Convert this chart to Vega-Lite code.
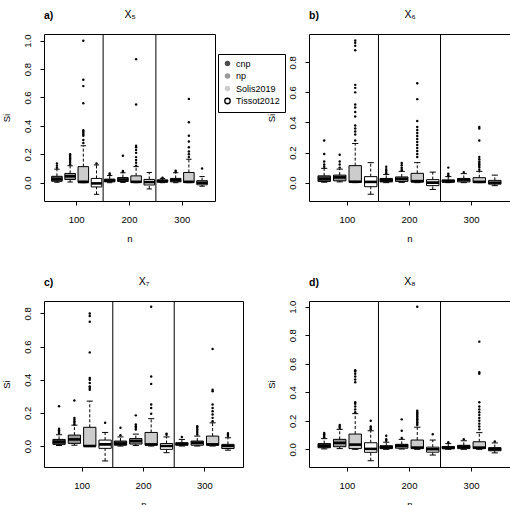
{
"$schema": "https://vega.github.io/schema/vega-lite/v6.json",
"padding": {"left": 0, "top": 8, "right": 0, "bottom": 0},
"datasets": {
"boxes": [
{"p":"a","n":100,"m":"cnp","lo":0.003,"q1":0.01,"md":0.025,"q3":0.045,"hi":0.095},
{"p":"a","n":100,"m":"np","lo":0.005,"q1":0.022,"md":0.045,"q3":0.065,"hi":0.12},
{"p":"a","n":100,"m":"Solis2019","lo":0.0,"q1":0.002,"md":0.006,"q3":0.113,"hi":0.26},
{"p":"a","n":100,"m":"Tissot2012","lo":-0.082,"q1":-0.03,"md":-0.005,"q3":0.03,"hi":0.125},
{"p":"a","n":200,"m":"cnp","lo":0.0,"q1":0.006,"md":0.015,"q3":0.025,"hi":0.05},
{"p":"a","n":200,"m":"np","lo":0.002,"q1":0.008,"md":0.022,"q3":0.036,"hi":0.07},
{"p":"a","n":200,"m":"Solis2019","lo":0.0,"q1":0.001,"md":0.006,"q3":0.048,"hi":0.113},
{"p":"a","n":200,"m":"Tissot2012","lo":-0.044,"q1":-0.016,"md":0.004,"q3":0.023,"hi":0.072},
{"p":"a","n":300,"m":"cnp","lo":0.0,"q1":0.004,"md":0.01,"q3":0.02,"hi":0.03},
{"p":"a","n":300,"m":"np","lo":0.0,"q1":0.006,"md":0.018,"q3":0.03,"hi":0.07},
{"p":"a","n":300,"m":"Solis2019","lo":0.0,"q1":0.001,"md":0.006,"q3":0.072,"hi":0.165},
{"p":"a","n":300,"m":"Tissot2012","lo":-0.025,"q1":-0.015,"md":0.0,"q3":0.014,"hi":0.043},
{"p":"b","n":100,"m":"cnp","lo":0.003,"q1":0.008,"md":0.025,"q3":0.045,"hi":0.095},
{"p":"b","n":100,"m":"np","lo":0.005,"q1":0.012,"md":0.035,"q3":0.05,"hi":0.09},
{"p":"b","n":100,"m":"Solis2019","lo":0.0,"q1":0.002,"md":0.006,"q3":0.113,"hi":0.26},
{"p":"b","n":100,"m":"Tissot2012","lo":-0.077,"q1":-0.027,"md":0.005,"q3":0.04,"hi":0.133},
{"p":"b","n":200,"m":"cnp","lo":0.0,"q1":0.005,"md":0.015,"q3":0.028,"hi":0.055},
{"p":"b","n":200,"m":"np","lo":0.002,"q1":0.008,"md":0.025,"q3":0.038,"hi":0.075},
{"p":"b","n":200,"m":"Solis2019","lo":0.0,"q1":0.004,"md":0.01,"q3":0.062,"hi":0.133},
{"p":"b","n":200,"m":"Tissot2012","lo":-0.045,"q1":-0.02,"md":0.0,"q3":0.02,"hi":0.07},
{"p":"b","n":300,"m":"cnp","lo":0.0,"q1":0.003,"md":0.01,"q3":0.018,"hi":0.04},
{"p":"b","n":300,"m":"np","lo":0.0,"q1":0.005,"md":0.02,"q3":0.028,"hi":0.06},
{"p":"b","n":300,"m":"Solis2019","lo":0.0,"q1":0.001,"md":0.005,"q3":0.033,"hi":0.075},
{"p":"b","n":300,"m":"Tissot2012","lo":-0.02,"q1":-0.01,"md":0.0,"q3":0.015,"hi":0.05},
{"p":"c","n":100,"m":"cnp","lo":0.003,"q1":0.01,"md":0.025,"q3":0.04,"hi":0.068},
{"p":"c","n":100,"m":"np","lo":0.005,"q1":0.016,"md":0.04,"q3":0.066,"hi":0.126},
{"p":"c","n":100,"m":"Solis2019","lo":-0.003,"q1":-0.002,"md":0.0,"q3":0.113,"hi":0.271},
{"p":"c","n":100,"m":"Tissot2012","lo":-0.09,"q1":-0.014,"md":0.01,"q3":0.036,"hi":0.082},
{"p":"c","n":200,"m":"cnp","lo":0.0,"q1":0.005,"md":0.015,"q3":0.03,"hi":0.055},
{"p":"c","n":200,"m":"np","lo":0.003,"q1":0.012,"md":0.03,"q3":0.045,"hi":0.072},
{"p":"c","n":200,"m":"Solis2019","lo":0.0,"q1":0.005,"md":0.01,"q3":0.082,"hi":0.165},
{"p":"c","n":200,"m":"Tissot2012","lo":-0.04,"q1":-0.02,"md":0.0,"q3":0.015,"hi":0.055},
{"p":"c","n":300,"m":"cnp","lo":0.0,"q1":0.005,"md":0.012,"q3":0.02,"hi":0.04},
{"p":"c","n":300,"m":"np","lo":0.0,"q1":0.005,"md":0.02,"q3":0.03,"hi":0.06},
{"p":"c","n":300,"m":"Solis2019","lo":0.0,"q1":0.005,"md":0.01,"q3":0.06,"hi":0.14},
{"p":"c","n":300,"m":"Tissot2012","lo":-0.025,"q1":-0.015,"md":0.0,"q3":0.01,"hi":0.05},
{"p":"d","n":100,"m":"cnp","lo":0.003,"q1":0.011,"md":0.025,"q3":0.04,"hi":0.075},
{"p":"d","n":100,"m":"np","lo":0.005,"q1":0.018,"md":0.045,"q3":0.07,"hi":0.14},
{"p":"d","n":100,"m":"Solis2019","lo":0.0,"q1":0.005,"md":0.033,"q3":0.107,"hi":0.25},
{"p":"d","n":100,"m":"Tissot2012","lo":-0.08,"q1":-0.021,"md":0.003,"q3":0.046,"hi":0.13},
{"p":"d","n":200,"m":"cnp","lo":0.0,"q1":0.005,"md":0.015,"q3":0.025,"hi":0.05},
{"p":"d","n":200,"m":"np","lo":0.002,"q1":0.008,"md":0.025,"q3":0.035,"hi":0.07},
{"p":"d","n":200,"m":"Solis2019","lo":0.0,"q1":0.005,"md":0.012,"q3":0.065,"hi":0.155},
{"p":"d","n":200,"m":"Tissot2012","lo":-0.04,"q1":-0.02,"md":0.0,"q3":0.015,"hi":0.065},
{"p":"d","n":300,"m":"cnp","lo":0.0,"q1":0.005,"md":0.01,"q3":0.02,"hi":0.04},
{"p":"d","n":300,"m":"np","lo":0.0,"q1":0.005,"md":0.018,"q3":0.028,"hi":0.06},
{"p":"d","n":300,"m":"Solis2019","lo":0.0,"q1":0.005,"md":0.012,"q3":0.053,"hi":0.117},
{"p":"d","n":300,"m":"Tissot2012","lo":-0.025,"q1":-0.01,"md":0.0,"q3":0.012,"hi":0.045}
],
"outl": [
{"p":"a","n":100,"m":"cnp","v":0.105},{"p":"a","n":100,"m":"cnp","v":0.12},{"p":"a","n":100,"m":"cnp","v":0.135},
{"p":"a","n":100,"m":"np","v":0.13},{"p":"a","n":100,"m":"np","v":0.145},{"p":"a","n":100,"m":"np","v":0.16},{"p":"a","n":100,"m":"np","v":0.17},{"p":"a","n":100,"m":"np","v":0.18},{"p":"a","n":100,"m":"np","v":0.19},{"p":"a","n":100,"m":"np","v":0.2},
{"p":"a","n":100,"m":"Solis2019","v":0.28},{"p":"a","n":100,"m":"Solis2019","v":0.3},{"p":"a","n":100,"m":"Solis2019","v":0.33},{"p":"a","n":100,"m":"Solis2019","v":0.34},{"p":"a","n":100,"m":"Solis2019","v":0.35},{"p":"a","n":100,"m":"Solis2019","v":0.36},{"p":"a","n":100,"m":"Solis2019","v":0.37},{"p":"a","n":100,"m":"Solis2019","v":0.56},{"p":"a","n":100,"m":"Solis2019","v":0.68},{"p":"a","n":100,"m":"Solis2019","v":0.725},{"p":"a","n":100,"m":"Solis2019","v":1.0},
{"p":"a","n":100,"m":"Tissot2012","v":0.135},
{"p":"a","n":200,"m":"cnp","v":0.058},{"p":"a","n":200,"m":"cnp","v":0.065},
{"p":"a","n":200,"m":"np","v":0.075},{"p":"a","n":200,"m":"np","v":0.082},{"p":"a","n":200,"m":"np","v":0.19},
{"p":"a","n":200,"m":"Solis2019","v":0.12},{"p":"a","n":200,"m":"Solis2019","v":0.14},{"p":"a","n":200,"m":"Solis2019","v":0.16},{"p":"a","n":200,"m":"Solis2019","v":0.18},{"p":"a","n":200,"m":"Solis2019","v":0.21},{"p":"a","n":200,"m":"Solis2019","v":0.23},{"p":"a","n":200,"m":"Solis2019","v":0.25},{"p":"a","n":200,"m":"Solis2019","v":0.26},{"p":"a","n":200,"m":"Solis2019","v":0.55},{"p":"a","n":200,"m":"Solis2019","v":0.87},
{"p":"a","n":300,"m":"cnp","v":0.035},
{"p":"a","n":300,"m":"np","v":0.075},{"p":"a","n":300,"m":"np","v":0.085},
{"p":"a","n":300,"m":"Solis2019","v":0.18},{"p":"a","n":300,"m":"Solis2019","v":0.2},{"p":"a","n":300,"m":"Solis2019","v":0.22},{"p":"a","n":300,"m":"Solis2019","v":0.25},{"p":"a","n":300,"m":"Solis2019","v":0.29},{"p":"a","n":300,"m":"Solis2019","v":0.33},{"p":"a","n":300,"m":"Solis2019","v":0.425},{"p":"a","n":300,"m":"Solis2019","v":0.59},
{"p":"a","n":300,"m":"Tissot2012","v":0.1},
{"p":"b","n":100,"m":"cnp","v":0.105},{"p":"b","n":100,"m":"cnp","v":0.12},{"p":"b","n":100,"m":"cnp","v":0.14},{"p":"b","n":100,"m":"cnp","v":0.19},{"p":"b","n":100,"m":"cnp","v":0.28},
{"p":"b","n":100,"m":"np","v":0.1},{"p":"b","n":100,"m":"np","v":0.12},{"p":"b","n":100,"m":"np","v":0.14},{"p":"b","n":100,"m":"np","v":0.185},
{"p":"b","n":100,"m":"Solis2019","v":0.28},{"p":"b","n":100,"m":"Solis2019","v":0.32},{"p":"b","n":100,"m":"Solis2019","v":0.34},{"p":"b","n":100,"m":"Solis2019","v":0.36},{"p":"b","n":100,"m":"Solis2019","v":0.38},{"p":"b","n":100,"m":"Solis2019","v":0.44},{"p":"b","n":100,"m":"Solis2019","v":0.47},{"p":"b","n":100,"m":"Solis2019","v":0.5},{"p":"b","n":100,"m":"Solis2019","v":0.52},{"p":"b","n":100,"m":"Solis2019","v":0.6},{"p":"b","n":100,"m":"Solis2019","v":0.63},{"p":"b","n":100,"m":"Solis2019","v":0.65},{"p":"b","n":100,"m":"Solis2019","v":0.88},{"p":"b","n":100,"m":"Solis2019","v":0.91},{"p":"b","n":100,"m":"Solis2019","v":0.93},{"p":"b","n":100,"m":"Solis2019","v":0.945},
{"p":"b","n":200,"m":"cnp","v":0.06},{"p":"b","n":200,"m":"cnp","v":0.07},{"p":"b","n":200,"m":"cnp","v":0.08},{"p":"b","n":200,"m":"cnp","v":0.09},{"p":"b","n":200,"m":"cnp","v":0.105},
{"p":"b","n":200,"m":"np","v":0.08},{"p":"b","n":200,"m":"np","v":0.09},{"p":"b","n":200,"m":"np","v":0.1},{"p":"b","n":200,"m":"np","v":0.115},{"p":"b","n":200,"m":"np","v":0.13},
{"p":"b","n":200,"m":"Solis2019","v":0.17},{"p":"b","n":200,"m":"Solis2019","v":0.19},{"p":"b","n":200,"m":"Solis2019","v":0.21},{"p":"b","n":200,"m":"Solis2019","v":0.23},{"p":"b","n":200,"m":"Solis2019","v":0.25},{"p":"b","n":200,"m":"Solis2019","v":0.27},{"p":"b","n":200,"m":"Solis2019","v":0.29},{"p":"b","n":200,"m":"Solis2019","v":0.31},{"p":"b","n":200,"m":"Solis2019","v":0.33},{"p":"b","n":200,"m":"Solis2019","v":0.35},{"p":"b","n":200,"m":"Solis2019","v":0.37},{"p":"b","n":200,"m":"Solis2019","v":0.41},{"p":"b","n":200,"m":"Solis2019","v":0.555},{"p":"b","n":200,"m":"Solis2019","v":0.66},
{"p":"b","n":300,"m":"cnp","v":0.045},{"p":"b","n":300,"m":"cnp","v":0.05},{"p":"b","n":300,"m":"cnp","v":0.06},{"p":"b","n":300,"m":"cnp","v":0.1},
{"p":"b","n":300,"m":"np","v":0.07},
{"p":"b","n":300,"m":"Solis2019","v":0.085},{"p":"b","n":300,"m":"Solis2019","v":0.1},{"p":"b","n":300,"m":"Solis2019","v":0.11},{"p":"b","n":300,"m":"Solis2019","v":0.12},{"p":"b","n":300,"m":"Solis2019","v":0.13},{"p":"b","n":300,"m":"Solis2019","v":0.14},{"p":"b","n":300,"m":"Solis2019","v":0.155},{"p":"b","n":300,"m":"Solis2019","v":0.17},{"p":"b","n":300,"m":"Solis2019","v":0.28},{"p":"b","n":300,"m":"Solis2019","v":0.36},{"p":"b","n":300,"m":"Solis2019","v":0.37},
{"p":"c","n":100,"m":"cnp","v":0.075},{"p":"c","n":100,"m":"cnp","v":0.085},{"p":"c","n":100,"m":"cnp","v":0.095},{"p":"c","n":100,"m":"cnp","v":0.105},{"p":"c","n":100,"m":"cnp","v":0.24},
{"p":"c","n":100,"m":"np","v":0.13},{"p":"c","n":100,"m":"np","v":0.14},{"p":"c","n":100,"m":"np","v":0.15},{"p":"c","n":100,"m":"np","v":0.16},{"p":"c","n":100,"m":"np","v":0.17},{"p":"c","n":100,"m":"np","v":0.275},
{"p":"c","n":100,"m":"Solis2019","v":0.34},{"p":"c","n":100,"m":"Solis2019","v":0.35},{"p":"c","n":100,"m":"Solis2019","v":0.36},{"p":"c","n":100,"m":"Solis2019","v":0.38},{"p":"c","n":100,"m":"Solis2019","v":0.4},{"p":"c","n":100,"m":"Solis2019","v":0.41},{"p":"c","n":100,"m":"Solis2019","v":0.565},{"p":"c","n":100,"m":"Solis2019","v":0.75},{"p":"c","n":100,"m":"Solis2019","v":0.785},{"p":"c","n":100,"m":"Solis2019","v":0.8},
{"p":"c","n":100,"m":"Tissot2012","v":0.14},
{"p":"c","n":200,"m":"cnp","v":0.065},{"p":"c","n":200,"m":"cnp","v":0.11},
{"p":"c","n":200,"m":"np","v":0.1},{"p":"c","n":200,"m":"np","v":0.11},{"p":"c","n":200,"m":"np","v":0.12},{"p":"c","n":200,"m":"np","v":0.13},{"p":"c","n":200,"m":"np","v":0.185},
{"p":"c","n":200,"m":"Solis2019","v":0.195},{"p":"c","n":200,"m":"Solis2019","v":0.23},{"p":"c","n":200,"m":"Solis2019","v":0.25},{"p":"c","n":200,"m":"Solis2019","v":0.375},{"p":"c","n":200,"m":"Solis2019","v":0.42},{"p":"c","n":200,"m":"Solis2019","v":0.84},
{"p":"c","n":200,"m":"Tissot2012","v":0.068},{"p":"c","n":200,"m":"Tissot2012","v":0.075},
{"p":"c","n":300,"m":"cnp","v":0.055},
{"p":"c","n":300,"m":"np","v":0.07},{"p":"c","n":300,"m":"np","v":0.08},{"p":"c","n":300,"m":"np","v":0.09},{"p":"c","n":300,"m":"np","v":0.1},{"p":"c","n":300,"m":"np","v":0.11},{"p":"c","n":300,"m":"np","v":0.12},
{"p":"c","n":300,"m":"Solis2019","v":0.15},{"p":"c","n":300,"m":"Solis2019","v":0.17},{"p":"c","n":300,"m":"Solis2019","v":0.19},{"p":"c","n":300,"m":"Solis2019","v":0.21},{"p":"c","n":300,"m":"Solis2019","v":0.23},{"p":"c","n":300,"m":"Solis2019","v":0.25},{"p":"c","n":300,"m":"Solis2019","v":0.33},{"p":"c","n":300,"m":"Solis2019","v":0.34},{"p":"c","n":300,"m":"Solis2019","v":0.585},
{"p":"c","n":300,"m":"Tissot2012","v":0.06},{"p":"c","n":300,"m":"Tissot2012","v":0.07},{"p":"c","n":300,"m":"Tissot2012","v":0.078},
{"p":"d","n":100,"m":"cnp","v":0.085},{"p":"d","n":100,"m":"cnp","v":0.095},{"p":"d","n":100,"m":"cnp","v":0.105},{"p":"d","n":100,"m":"cnp","v":0.115},
{"p":"d","n":100,"m":"np","v":0.15},{"p":"d","n":100,"m":"np","v":0.16},{"p":"d","n":100,"m":"np","v":0.17},
{"p":"d","n":100,"m":"Solis2019","v":0.26},{"p":"d","n":100,"m":"Solis2019","v":0.28},{"p":"d","n":100,"m":"Solis2019","v":0.3},{"p":"d","n":100,"m":"Solis2019","v":0.32},{"p":"d","n":100,"m":"Solis2019","v":0.33},{"p":"d","n":100,"m":"Solis2019","v":0.47},{"p":"d","n":100,"m":"Solis2019","v":0.49},{"p":"d","n":100,"m":"Solis2019","v":0.51},{"p":"d","n":100,"m":"Solis2019","v":0.53},{"p":"d","n":100,"m":"Solis2019","v":0.545},{"p":"d","n":100,"m":"Solis2019","v":0.555},
{"p":"d","n":100,"m":"Tissot2012","v":0.14},{"p":"d","n":100,"m":"Tissot2012","v":0.15},{"p":"d","n":100,"m":"Tissot2012","v":0.16},{"p":"d","n":100,"m":"Tissot2012","v":0.2},
{"p":"d","n":200,"m":"cnp","v":0.06},{"p":"d","n":200,"m":"cnp","v":0.07},{"p":"d","n":200,"m":"cnp","v":0.095},
{"p":"d","n":200,"m":"np","v":0.08},{"p":"d","n":200,"m":"np","v":0.13},{"p":"d","n":200,"m":"np","v":0.21},
{"p":"d","n":200,"m":"Solis2019","v":0.17},{"p":"d","n":200,"m":"Solis2019","v":0.18},{"p":"d","n":200,"m":"Solis2019","v":0.19},{"p":"d","n":200,"m":"Solis2019","v":0.2},{"p":"d","n":200,"m":"Solis2019","v":0.21},{"p":"d","n":200,"m":"Solis2019","v":0.22},{"p":"d","n":200,"m":"Solis2019","v":0.23},{"p":"d","n":200,"m":"Solis2019","v":0.24},{"p":"d","n":200,"m":"Solis2019","v":0.25},{"p":"d","n":200,"m":"Solis2019","v":0.26},{"p":"d","n":200,"m":"Solis2019","v":0.27},{"p":"d","n":200,"m":"Solis2019","v":1.0},
{"p":"d","n":200,"m":"Tissot2012","v":0.105},
{"p":"d","n":300,"m":"cnp","v":0.05},
{"p":"d","n":300,"m":"np","v":0.07},
{"p":"d","n":300,"m":"Solis2019","v":0.14},{"p":"d","n":300,"m":"Solis2019","v":0.16},{"p":"d","n":300,"m":"Solis2019","v":0.18},{"p":"d","n":300,"m":"Solis2019","v":0.2},{"p":"d","n":300,"m":"Solis2019","v":0.22},{"p":"d","n":300,"m":"Solis2019","v":0.24},{"p":"d","n":300,"m":"Solis2019","v":0.26},{"p":"d","n":300,"m":"Solis2019","v":0.28},{"p":"d","n":300,"m":"Solis2019","v":0.3},{"p":"d","n":300,"m":"Solis2019","v":0.33},{"p":"d","n":300,"m":"Solis2019","v":0.53},{"p":"d","n":300,"m":"Solis2019","v":0.54},{"p":"d","n":300,"m":"Solis2019","v":0.755},
{"p":"d","n":300,"m":"Tissot2012","v":0.055}
],
"div": [{"n": 200}, {"n": 300}]
},
"columns": 2,
"spacing": {"row": 100, "column": 66},
"bounds": "flush",
"resolve": {"scale": {"x": "independent", "y": "independent", "xOffset": "independent", "fill": "independent"}, "legend": {"fill": "independent"}},
"concat": [
{
"width": 171, "height": 167,
"title": {"text": "a)", "anchor": "start", "frame": "group", "fontWeight": "bold", "fontSize": 10.5, "offset": 0, "dy": 12},
"resolve": {"axis": {"x": "independent"}},
"layer": [
{"data": {"name": "div"}, "mark": {"type": "rule", "color": "black", "strokeWidth": 1}, "encoding": {"x": {"field": "n", "type": "nominal", "bandPosition": 0, "axis": null}}},
{"data": {"name": "boxes"}, "transform": [{"filter": "datum.p == 'a'"}], "mark": {"type": "rule", "color": "black", "strokeWidth": 1, "strokeDash": [3, 2]}, "encoding": {"x": {"field": "n", "type": "nominal", "axis": null}, "xOffset": {"field": "m"}, "y": {"field": "lo", "type": "quantitative", "title": "Si"}, "y2": {"field": "q1"}}},
{"data": {"name": "boxes"}, "transform": [{"filter": "datum.p == 'a'"}], "mark": {"type": "rule", "color": "black", "strokeWidth": 1, "strokeDash": [3, 2]}, "encoding": {"x": {"field": "n", "type": "nominal", "axis": null}, "xOffset": {"field": "m"}, "y": {"field": "q3", "type": "quantitative", "title": "Si"}, "y2": {"field": "hi"}}},
{"data": {"name": "boxes"}, "transform": [{"filter": "datum.p == 'a'"}], "mark": {"type": "tick", "color": "black", "size": 5.3, "thickness": 1, "opacity": 1}, "encoding": {"x": {"field": "n", "type": "nominal", "axis": null}, "xOffset": {"field": "m"}, "y": {"field": "lo", "type": "quantitative", "title": "Si"}}},
{"data": {"name": "boxes"}, "transform": [{"filter": "datum.p == 'a'"}], "mark": {"type": "tick", "color": "black", "size": 5.3, "thickness": 1, "opacity": 1}, "encoding": {"x": {"field": "n", "type": "nominal", "axis": null}, "xOffset": {"field": "m"}, "y": {"field": "hi", "type": "quantitative", "title": "Si"}}},
{"data": {"name": "boxes"}, "transform": [{"filter": "datum.p == 'a'"}], "mark": {"type": "bar", "stroke": "black", "strokeWidth": 1, "opacity": 1},
 "encoding": {
  "x": {"field": "n", "type": "nominal", "scale": {"paddingInner": 0, "paddingOuter": 0.12}, "axis": {"title": "n", "orient": "bottom"}},
  "xOffset": {"field": "m", "scale": {"domain": ["cnp", "np", "Solis2019", "Tissot2012"], "paddingInner": 0.2, "paddingOuter": 0.1}},
  "y": {"field": "q1", "type": "quantitative", "title": "Si", "scale": {"domain": [-0.129, 1.047], "nice": false, "zero": false}, "axis": {"values": [0, 0.2, 0.4, 0.6, 0.8, 1.0], "tickCount": 12, "labelOverlap": false}},
  "y2": {"field": "q3"},
  "fill": {"field": "m", "type": "nominal", "scale": {"domain": ["cnp", "np", "Solis2019", "Tissot2012"], "range": ["#4d4d4d", "#999999", "#cccccc", "#ffffff"]},
   "legend": {"orient": "none", "legendX": 174, "legendY": 20, "title": null, "strokeColor": "black", "fillColor": "white", "padding": 5, "labelFontSize": 9, "labelColor": "black", "symbolType": "circle", "symbolSize": 30, "rowPadding": 1.5, "labelOffset": 4, "symbolStrokeWidth": 1.3,
    "encoding": {"symbols": {"stroke": {"condition": {"test": "datum.value === 'Tissot2012'", "value": "black"}, "value": "transparent"}}}}}
 }},
{"mark": {"type": "rule", "color": "black", "strokeWidth": 1}, "encoding": {"y": {"datum": 0, "type": "quantitative", "title": "Si"}}},
{"data": {"name": "boxes"}, "transform": [{"filter": "datum.p == 'a'"}], "mark": {"type": "tick", "color": "black", "size": 10.6, "thickness": 2.6, "opacity": 1}, "encoding": {"x": {"field": "n", "type": "nominal", "axis": {"orient": "top", "title": "X₅", "labels": false, "ticks": false, "tickSize": 0, "titleFontSize": 10.5, "titlePadding": 15}}, "xOffset": {"field": "m"}, "y": {"field": "md", "type": "quantitative", "title": "Si"}}},
{"data": {"name": "outl"}, "transform": [{"filter": "datum.p == 'a'"}], "mark": {"type": "circle", "color": "black", "size": 6, "opacity": 1}, "encoding": {"x": {"field": "n", "type": "nominal", "axis": null}, "xOffset": {"field": "m"}, "y": {"field": "v", "type": "quantitative", "title": "Si"}}}
]
},
{
"width": 201, "height": 167,
"title": {"text": "b)", "anchor": "start", "frame": "group", "fontWeight": "bold", "fontSize": 10.5, "offset": 0, "dy": 12},
"resolve": {"axis": {"x": "independent"}},
"layer": [
{"data": {"name": "div"}, "mark": {"type": "rule", "color": "black", "strokeWidth": 1}, "encoding": {"x": {"field": "n", "type": "nominal", "bandPosition": 0, "axis": null}}},
{"data": {"name": "boxes"}, "transform": [{"filter": "datum.p == 'b'"}], "mark": {"type": "rule", "color": "black", "strokeWidth": 1, "strokeDash": [3, 2]}, "encoding": {"x": {"field": "n", "type": "nominal", "axis": null}, "xOffset": {"field": "m"}, "y": {"field": "lo", "type": "quantitative", "title": "Si"}, "y2": {"field": "q1"}}},
{"data": {"name": "boxes"}, "transform": [{"filter": "datum.p == 'b'"}], "mark": {"type": "rule", "color": "black", "strokeWidth": 1, "strokeDash": [3, 2]}, "encoding": {"x": {"field": "n", "type": "nominal", "axis": null}, "xOffset": {"field": "m"}, "y": {"field": "q3", "type": "quantitative", "title": "Si"}, "y2": {"field": "hi"}}},
{"data": {"name": "boxes"}, "transform": [{"filter": "datum.p == 'b'"}], "mark": {"type": "tick", "color": "black", "size": 6.2, "thickness": 1, "opacity": 1}, "encoding": {"x": {"field": "n", "type": "nominal", "axis": null}, "xOffset": {"field": "m"}, "y": {"field": "lo", "type": "quantitative", "title": "Si"}}},
{"data": {"name": "boxes"}, "transform": [{"filter": "datum.p == 'b'"}], "mark": {"type": "tick", "color": "black", "size": 6.2, "thickness": 1, "opacity": 1}, "encoding": {"x": {"field": "n", "type": "nominal", "axis": null}, "xOffset": {"field": "m"}, "y": {"field": "hi", "type": "quantitative", "title": "Si"}}},
{"data": {"name": "boxes"}, "transform": [{"filter": "datum.p == 'b'"}], "mark": {"type": "bar", "stroke": "black", "strokeWidth": 1, "opacity": 1},
 "encoding": {
  "x": {"field": "n", "type": "nominal", "scale": {"paddingInner": 0, "paddingOuter": 0.12}, "axis": {"title": "n", "orient": "bottom"}},
  "xOffset": {"field": "m", "scale": {"domain": ["cnp", "np", "Solis2019", "Tissot2012"], "paddingInner": 0.2, "paddingOuter": 0.1}},
  "y": {"field": "q1", "type": "quantitative", "title": "Si", "scale": {"domain": [-0.122, 0.988], "nice": false, "zero": false}, "axis": {"values": [0, 0.2, 0.4, 0.6, 0.8], "tickCount": 12, "labelOverlap": false}},
  "y2": {"field": "q3"},
  "fill": {"field": "m", "type": "nominal", "scale": {"domain": ["cnp", "np", "Solis2019", "Tissot2012"], "range": ["#4d4d4d", "#999999", "#cccccc", "#ffffff"]}, "legend": null}
 }},
{"mark": {"type": "rule", "color": "black", "strokeWidth": 1}, "encoding": {"y": {"datum": 0, "type": "quantitative", "title": "Si"}}},
{"data": {"name": "boxes"}, "transform": [{"filter": "datum.p == 'b'"}], "mark": {"type": "tick", "color": "black", "size": 12.4, "thickness": 2.6, "opacity": 1}, "encoding": {"x": {"field": "n", "type": "nominal", "axis": {"orient": "top", "title": "X₆", "labels": false, "ticks": false, "tickSize": 0, "titleFontSize": 10.5, "titlePadding": 15}}, "xOffset": {"field": "m"}, "y": {"field": "md", "type": "quantitative", "title": "Si"}}},
{"data": {"name": "outl"}, "transform": [{"filter": "datum.p == 'b'"}], "mark": {"type": "circle", "color": "black", "size": 6, "opacity": 1}, "encoding": {"x": {"field": "n", "type": "nominal", "axis": null}, "xOffset": {"field": "m"}, "y": {"field": "v", "type": "quantitative", "title": "Si"}}}
]
},
{
"width": 199, "height": 166,
"title": {"text": "c)", "anchor": "start", "frame": "group", "fontWeight": "bold", "fontSize": 10.5, "offset": 0, "dy": 12},
"resolve": {"axis": {"x": "independent"}},
"layer": [
{"data": {"name": "div"}, "mark": {"type": "rule", "color": "black", "strokeWidth": 1}, "encoding": {"x": {"field": "n", "type": "nominal", "bandPosition": 0, "axis": null}}},
{"data": {"name": "boxes"}, "transform": [{"filter": "datum.p == 'c'"}], "mark": {"type": "rule", "color": "black", "strokeWidth": 1, "strokeDash": [3, 2]}, "encoding": {"x": {"field": "n", "type": "nominal", "axis": null}, "xOffset": {"field": "m"}, "y": {"field": "lo", "type": "quantitative", "title": "Si"}, "y2": {"field": "q1"}}},
{"data": {"name": "boxes"}, "transform": [{"filter": "datum.p == 'c'"}], "mark": {"type": "rule", "color": "black", "strokeWidth": 1, "strokeDash": [3, 2]}, "encoding": {"x": {"field": "n", "type": "nominal", "axis": null}, "xOffset": {"field": "m"}, "y": {"field": "q3", "type": "quantitative", "title": "Si"}, "y2": {"field": "hi"}}},
{"data": {"name": "boxes"}, "transform": [{"filter": "datum.p == 'c'"}], "mark": {"type": "tick", "color": "black", "size": 6.1, "thickness": 1, "opacity": 1}, "encoding": {"x": {"field": "n", "type": "nominal", "axis": null}, "xOffset": {"field": "m"}, "y": {"field": "lo", "type": "quantitative", "title": "Si"}}},
{"data": {"name": "boxes"}, "transform": [{"filter": "datum.p == 'c'"}], "mark": {"type": "tick", "color": "black", "size": 6.1, "thickness": 1, "opacity": 1}, "encoding": {"x": {"field": "n", "type": "nominal", "axis": null}, "xOffset": {"field": "m"}, "y": {"field": "hi", "type": "quantitative", "title": "Si"}}},
{"data": {"name": "boxes"}, "transform": [{"filter": "datum.p == 'c'"}], "mark": {"type": "bar", "stroke": "black", "strokeWidth": 1, "opacity": 1},
 "encoding": {
  "x": {"field": "n", "type": "nominal", "scale": {"paddingInner": 0, "paddingOuter": 0.12}, "axis": {"title": "n", "orient": "bottom"}},
  "xOffset": {"field": "m", "scale": {"domain": ["cnp", "np", "Solis2019", "Tissot2012"], "paddingInner": 0.2, "paddingOuter": 0.1}},
  "y": {"field": "q1", "type": "quantitative", "title": "Si", "scale": {"domain": [-0.1265, 0.875], "nice": false, "zero": false}, "axis": {"values": [0, 0.2, 0.4, 0.6, 0.8], "tickCount": 12, "labelOverlap": false}},
  "y2": {"field": "q3"},
  "fill": {"field": "m", "type": "nominal", "scale": {"domain": ["cnp", "np", "Solis2019", "Tissot2012"], "range": ["#4d4d4d", "#999999", "#cccccc", "#ffffff"]}, "legend": null}
 }},
{"mark": {"type": "rule", "color": "black", "strokeWidth": 1}, "encoding": {"y": {"datum": 0, "type": "quantitative", "title": "Si"}}},
{"data": {"name": "boxes"}, "transform": [{"filter": "datum.p == 'c'"}], "mark": {"type": "tick", "color": "black", "size": 12.3, "thickness": 2.6, "opacity": 1}, "encoding": {"x": {"field": "n", "type": "nominal", "axis": {"orient": "top", "title": "X₇", "labels": false, "ticks": false, "tickSize": 0, "titleFontSize": 10.5, "titlePadding": 15}}, "xOffset": {"field": "m"}, "y": {"field": "md", "type": "quantitative", "title": "Si"}}},
{"data": {"name": "outl"}, "transform": [{"filter": "datum.p == 'c'"}], "mark": {"type": "circle", "color": "black", "size": 6, "opacity": 1}, "encoding": {"x": {"field": "n", "type": "nominal", "axis": null}, "xOffset": {"field": "m"}, "y": {"field": "v", "type": "quantitative", "title": "Si"}}}
]
},
{
"width": 201, "height": 166,
"title": {"text": "d)", "anchor": "start", "frame": "group", "fontWeight": "bold", "fontSize": 10.5, "offset": 0, "dy": 12},
"resolve": {"axis": {"x": "independent"}},
"layer": [
{"data": {"name": "div"}, "mark": {"type": "rule", "color": "black", "strokeWidth": 1}, "encoding": {"x": {"field": "n", "type": "nominal", "bandPosition": 0, "axis": null}}},
{"data": {"name": "boxes"}, "transform": [{"filter": "datum.p == 'd'"}], "mark": {"type": "rule", "color": "black", "strokeWidth": 1, "strokeDash": [3, 2]}, "encoding": {"x": {"field": "n", "type": "nominal", "axis": null}, "xOffset": {"field": "m"}, "y": {"field": "lo", "type": "quantitative", "title": "Si"}, "y2": {"field": "q1"}}},
{"data": {"name": "boxes"}, "transform": [{"filter": "datum.p == 'd'"}], "mark": {"type": "rule", "color": "black", "strokeWidth": 1, "strokeDash": [3, 2]}, "encoding": {"x": {"field": "n", "type": "nominal", "axis": null}, "xOffset": {"field": "m"}, "y": {"field": "q3", "type": "quantitative", "title": "Si"}, "y2": {"field": "hi"}}},
{"data": {"name": "boxes"}, "transform": [{"filter": "datum.p == 'd'"}], "mark": {"type": "tick", "color": "black", "size": 6.2, "thickness": 1, "opacity": 1}, "encoding": {"x": {"field": "n", "type": "nominal", "axis": null}, "xOffset": {"field": "m"}, "y": {"field": "lo", "type": "quantitative", "title": "Si"}}},
{"data": {"name": "boxes"}, "transform": [{"filter": "datum.p == 'd'"}], "mark": {"type": "tick", "color": "black", "size": 6.2, "thickness": 1, "opacity": 1}, "encoding": {"x": {"field": "n", "type": "nominal", "axis": null}, "xOffset": {"field": "m"}, "y": {"field": "hi", "type": "quantitative", "title": "Si"}}},
{"data": {"name": "boxes"}, "transform": [{"filter": "datum.p == 'd'"}], "mark": {"type": "bar", "stroke": "black", "strokeWidth": 1, "opacity": 1},
 "encoding": {
  "x": {"field": "n", "type": "nominal", "scale": {"paddingInner": 0, "paddingOuter": 0.12}, "axis": {"title": "n", "orient": "bottom"}},
  "xOffset": {"field": "m", "scale": {"domain": ["cnp", "np", "Solis2019", "Tissot2012"], "paddingInner": 0.2, "paddingOuter": 0.1}},
  "y": {"field": "q1", "type": "quantitative", "title": "Si", "scale": {"domain": [-0.124, 1.04], "nice": false, "zero": false}, "axis": {"values": [0, 0.2, 0.4, 0.6, 0.8, 1.0], "tickCount": 12, "labelOverlap": false}},
  "y2": {"field": "q3"},
  "fill": {"field": "m", "type": "nominal", "scale": {"domain": ["cnp", "np", "Solis2019", "Tissot2012"], "range": ["#4d4d4d", "#999999", "#cccccc", "#ffffff"]}, "legend": null}
 }},
{"mark": {"type": "rule", "color": "black", "strokeWidth": 1}, "encoding": {"y": {"datum": 0, "type": "quantitative", "title": "Si"}}},
{"data": {"name": "boxes"}, "transform": [{"filter": "datum.p == 'd'"}], "mark": {"type": "tick", "color": "black", "size": 12.4, "thickness": 2.6, "opacity": 1}, "encoding": {"x": {"field": "n", "type": "nominal", "axis": {"orient": "top", "title": "X₈", "labels": false, "ticks": false, "tickSize": 0, "titleFontSize": 10.5, "titlePadding": 15}}, "xOffset": {"field": "m"}, "y": {"field": "md", "type": "quantitative", "title": "Si"}}},
{"data": {"name": "outl"}, "transform": [{"filter": "datum.p == 'd'"}], "mark": {"type": "circle", "color": "black", "size": 6, "opacity": 1}, "encoding": {"x": {"field": "n", "type": "nominal", "axis": null}, "xOffset": {"field": "m"}, "y": {"field": "v", "type": "quantitative", "title": "Si"}}}
]
}
],
"config": {
 "font": "Liberation Sans",
 "background": "white",
 "view": {"stroke": "black", "strokeWidth": 1},
 "axis": {"grid": false, "domain": false, "tickColor": "black", "tickSize": 4, "labelColor": "black", "labelFontSize": 9.5, "titleFontSize": 9.5, "titleFontWeight": "normal", "titleColor": "black", "labelFont": "Liberation Sans", "titleFont": "Liberation Sans"},
 "axisY": {"labelAngle": -90, "labelAlign": "center", "labelBaseline": "bottom", "labelPadding": 8, "titlePadding": 11, "format": ".1f", "labelOverlap": false},
 "axisX": {"labelAngle": 0, "labelPadding": 9, "titlePadding": 10},
 "title": {"color": "black", "font": "Liberation Sans"}
}
}
